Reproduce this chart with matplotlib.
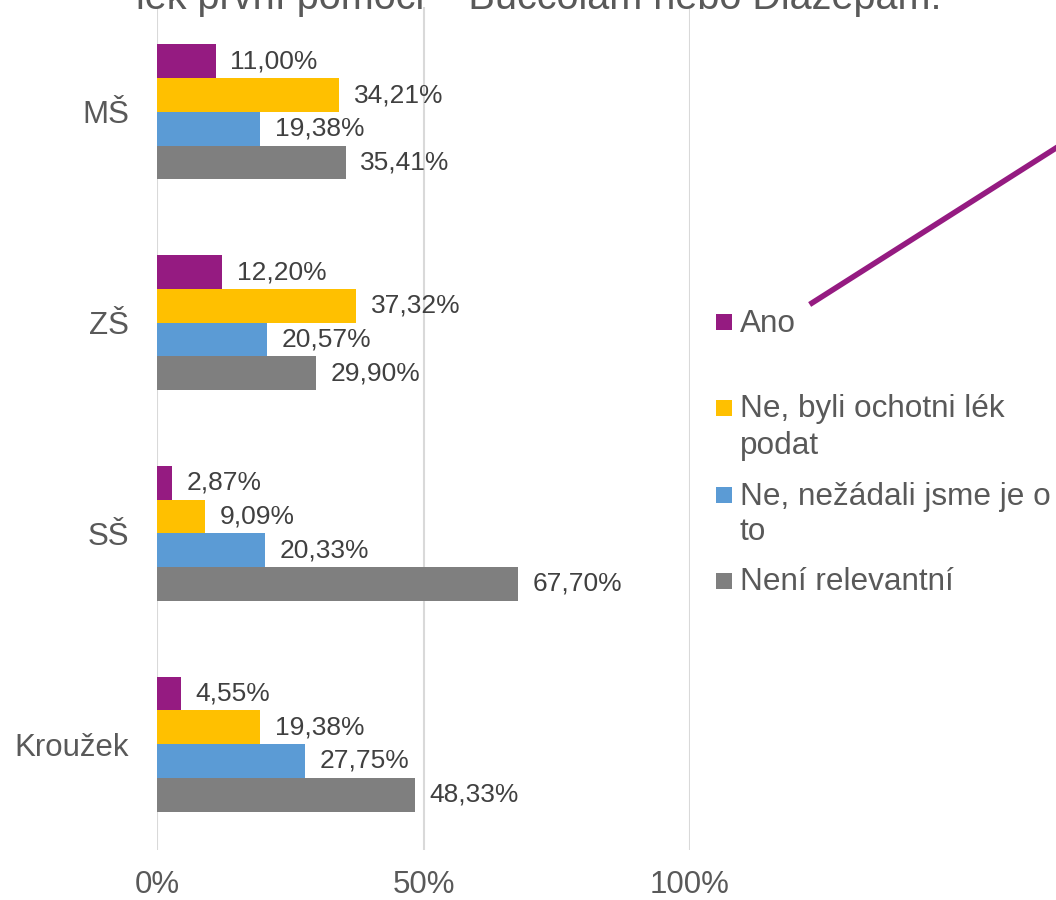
import matplotlib
matplotlib.use("Agg")
import matplotlib.pyplot as plt
from matplotlib.patches import Rectangle
from matplotlib.lines import Line2D
import numpy as np

plt.rcParams['font.family'] = ['Liberation Sans', 'DejaVu Sans']

categories = ["MŠ", "ZŠ", "SŠ", "Kroužek"]
series_names = ["Ano", "Ne, byli ochotni lék\npodat", "Ne, nežádali jsme je o\nto", "Není relevantní"]
colors = ["#951B81", "#FFC000", "#5B9BD5", "#7F7F7F"]
values = {
    "Ano": [11.00, 12.20, 2.87, 4.55],
    "Ne, byli ochotni lék\npodat": [34.21, 37.32, 9.09, 19.38],
    "Ne, nežádali jsme je o\nto": [19.38, 20.57, 20.33, 27.75],
    "Není relevantní": [35.41, 29.90, 67.70, 48.33],
}
xticks = [0, 50, 100]
xtick_labels = ["0%", "50%", "100%"]
title_text = "lék první pomoci – Buccolam nebo Diazepam."

W, H = 1056, 900
fig = plt.figure(figsize=(W / 100, H / 100), dpi=100)
ax = fig.add_axes([157 / W, 1 - 849.5 / H, (690 - 157) / W, (849.5 - 6.5) / H])

n = len(series_names)
group_h = 0.64
bar_h = group_h / n
y = np.arange(len(categories))
for i, name in enumerate(series_names):
    pos = y - group_h / 2 + bar_h * (i + 0.5)
    bars = ax.barh(pos, values[name], height=bar_h, color=colors[i], edgecolor='none')
    for b, v in zip(bars, values[name]):
        ax.annotate(f"{v:.2f}%".replace('.', ','), (b.get_width(), b.get_y() + b.get_height() / 2),
                    xytext=(10.5, 0), textcoords='offset points', va='center', ha='left',
                    fontsize=19, color='#404040')

ax.set_xlim(0, 100)
ax.set_ylim(len(categories) - 0.5, -0.5)
ax.set_yticks(y)
ax.set_yticklabels(categories, fontsize=22.5, color='#595959')
ax.set_xticks(xticks)
ax.set_xticklabels(xtick_labels, fontsize=22.5, color='#595959')
ax.tick_params(axis='both', length=0)
ax.tick_params(axis='y', pad=20)
ax.tick_params(axis='x', pad=15)
for s in ax.spines.values():
    s.set_visible(False)
ax.grid(axis='x', color='#D9D9D9', linewidth=1.5)
ax.set_axisbelow(True)

# title (partially cut at top)
fig.text(539 / W, 1 - 9 / H, title_text, ha='center', va='baseline', fontsize=28.5, color='#595959')

# legend
marker_centers = [322, 408, 495, 581]
line_gap = 36
for i, name in enumerate(series_names):
    yc = marker_centers[i]
    fig.patches.append(Rectangle((716 / W, 1 - (yc + 8) / H), 16 / W, 16 / H,
                                 transform=fig.transFigure, facecolor=colors[i], edgecolor='none'))
    for k, line in enumerate(name.split('\n')):
        fig.text(740 / W, 1 - (yc + 9.5 + k * line_gap) / H, line, ha='left', va='baseline',
                 fontsize=22.7, color='#595959')

# decorative line
fig.add_artist(Line2D([812 / W, 1.0], [1 - 303 / H, 1 - 148 / H], color='#951B81', linewidth=4,
                      transform=fig.transFigure))

fig.savefig("out.png", dpi=100)
